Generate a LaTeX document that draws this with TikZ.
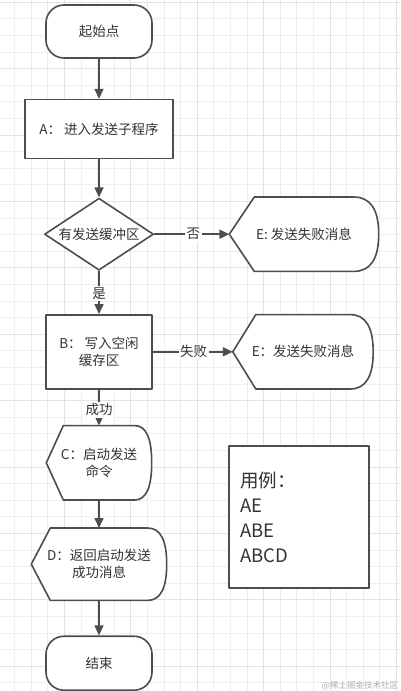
\documentclass[tikz,border=0pt]{standalone}
\usepackage{fontspec}
\setmainfont{Noto Sans CJK SC}
\usepackage{xcolor}
\usepackage{tikz}
\usetikzlibrary{arrows.meta, positioning, calc, shapes.geometric, backgrounds}
\definecolor{linegray}{RGB}{77,77,77}
\definecolor{textgray}{RGB}{51,51,51}
\definecolor{gridminor}{RGB}{238,238,238}
\definecolor{gridmajor}{RGB}{226,226,226}
\definecolor{markgray}{RGB}{175,175,175}
\pgfdeclarelayer{gridlayer}
\pgfsetlayers{gridlayer,background,main}
\newcommand{\displayoutline}[2]{%
  \draw[shapeline, fill=white] (#1.west) -- ([xshift=#2]#1.north west) -- ([xshift=-#2]#1.north east)
    .. controls ([xshift=-#2/3]#1.north east) and ($(#1.east)!2/3!(#1.north east)$) .. (#1.east)
    .. controls ($(#1.east)!2/3!(#1.south east)$) and ([xshift=-#2/3]#1.south east) .. ([xshift=-#2]#1.south east)
    -- ([xshift=#2]#1.south west) -- cycle;}
\tikzset{
  shapeline/.style={draw=linegray, line width=1.6pt, line join=round},
  terminal/.style={shapeline, fill=white, rounded corners=18pt, align=center, minimum width=106pt, minimum height=53pt},
  process/.style={shapeline, fill=white, align=center},
  decision/.style={shapeline, fill=white, diamond, aspect=1.5, inner sep=0pt, minimum width=109pt, minimum height=72pt},
  displaybox/.style={align=center, inner sep=0pt, minimum height=74pt},
  usagebox/.style={shapeline, fill=white, align=left, inner xsep=11pt, text width=118pt, minimum height=142pt, font=\fontsize{18.5}{25}\selectfont},
  arrow/.style={-{Triangle[length=10pt, width=9pt]}, draw=linegray, line width=1.6pt},
  edgelabel/.style={fill=white, inner sep=1.5pt},
  sitemark/.style={text=markgray, font=\fontsize{8.5}{10}\selectfont},
  every node/.style={font=\fontsize{13.5}{17}\selectfont, text=textgray}
}
\begin{document}
\begin{tikzpicture}[x=1pt, y=1pt]
    \useasboundingbox (0,0) rectangle (400,-691);
    \begin{pgfonlayer}{gridlayer}
      \fill[white] (0,0) rectangle (400,-691);
      \foreach \k in {0,...,24} {
        \draw[gridminor, line width=0.8pt] ({-2+16.6*\k},0) -- ({-2+16.6*\k},-691);
      }
      \foreach \k in {0,...,41} {
        \draw[gridminor, line width=0.8pt] (0,{-2.2-16.6*\k}) -- (400,{-2.2-16.6*\k});
      }
      \foreach \k in {0,...,6} {
        \draw[gridmajor, line width=0.9pt] ({-2+66.4*\k},0) -- ({-2+66.4*\k},-691);
      }
      \foreach \k in {0,...,10} {
        \draw[gridmajor, line width=0.9pt] (0,{-2.2-66.4*\k}) -- (400,{-2.2-66.4*\k});
      }
    \end{pgfonlayer}

    \node[terminal] (start) at (99,-31.5) {起始点};
    \node[process, minimum width=148pt, minimum height=59pt, below=40pt of start] (enter) {A：\ 进入发送子程序};
    \node[decision, below=38pt of enter] (check) {有发送缓冲区};
    \node[displaybox, minimum width=149pt, right=75pt of check] (failA) {E: 发送失败消息};
    \node[process, minimum width=106pt, minimum height=74pt, below=43pt of check] (write) {B：\ 写入空闲\\缓存区};
    \node[displaybox, minimum width=140pt, right=80pt of write] (failB) {E：发送失败消息};
    \node[displaybox, minimum width=105pt, below=36pt of write] (launch) {C：启动发送\\命令};
    \node[displaybox, minimum width=135pt, minimum height=72pt, below=28pt of launch] (report) {D：返回启动发送\\成功消息};
    \node[terminal, minimum height=54pt, below=35pt of report] (finish) {结束};
    \node[usagebox] (usage) at (299,-517) {用例：\\AE\\ABE\\ABCD};
    \node[sitemark] (watermark) at (360,-686) {@稀土掘金技术社区};

    \begin{pgfonlayer}{background}
      \displayoutline{failA}{25pt}
      \displayoutline{failB}{23pt}
      \displayoutline{launch}{17pt}
      \displayoutline{report}{19pt}
    \end{pgfonlayer}

    \draw[arrow] (start) -- (enter);
    \draw[arrow] (enter) -- (check);
    \draw[arrow] (check) -- node[edgelabel, pos=0.52] {否} (failA);
    \draw[arrow] (check) -- node[edgelabel, pos=0.53] {是} (write);
    \draw[arrow] (write) -- node[edgelabel, pos=0.51] {失败} (failB);
    \draw[arrow] (write) -- node[edgelabel, pos=0.56] {成功} (launch);
    \draw[arrow] (launch) -- (report);
    \draw[arrow] (report) -- (finish);
\end{tikzpicture}
\end{document}
